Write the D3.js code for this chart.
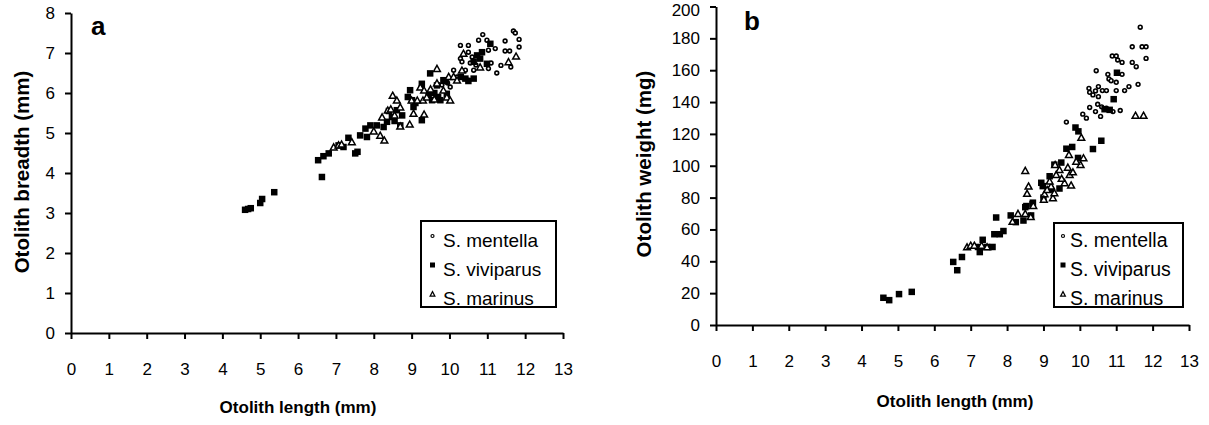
<!DOCTYPE html>
<html><head><meta charset="utf-8">
<script src="https://cdn.jsdelivr.net/npm/d3@7"></script>
<style>
html,body{margin:0;padding:0;background:#fff;}
svg{display:block;font-family:"Liberation Sans",Arial,sans-serif;}
</style></head>
<body>
<svg id="chart" width="1209" height="425"></svg>
<script>
// ---------- DATA ----------
const xTicks = [0,1,2,3,4,5,6,7,8,9,10,11,12,13];
const yTicksA = [0,1,2,3,4,5,6,7,8];
const yTicksB = [0,20,40,60,80,100,120,140,160,180,200];
const seriesNames = ["S. mentella","S. viviparus","S. marinus"];

// Panel a: otolith length (mm) vs breadth (mm)
const mentellaA = [[10.29,7.19],[10.50,7.19],[10.50,7.02],[10.29,6.86],[10.33,6.78],[10.42,6.57],[10.50,6.32],[10.64,6.57],[10.77,7.32],[10.88,7.46],[10.99,7.32],[11.03,7.07],[11.21,7.11],[11.10,6.75],[11.03,6.61],[11.25,6.50],[11.36,6.69],[11.47,7.30],[11.47,7.05],[11.59,7.05],[11.69,7.55],[11.74,7.50],[11.84,7.34],[11.84,7.15],[11.62,6.65],[10.11,6.57],[10.02,6.15],[10.60,6.90],[10.70,6.70],[10.20,6.40],[9.80,6.20],[10.55,6.75],[9.95,6.25]];
const viviparusA = [[4.60,3.08],[4.68,3.10],[4.75,3.12],[5.00,3.25],[5.05,3.35],[5.37,3.52],[6.53,4.32],[6.63,3.90],[6.67,4.42],[6.81,4.49],[7.07,4.69],[7.20,4.65],[7.33,4.88],[7.51,4.49],[7.57,4.53],[7.64,4.94],[7.78,5.11],[7.82,4.90],[7.91,5.19],[8.08,5.19],[8.26,5.15],[8.35,5.28],[8.48,5.40],[8.61,5.57],[8.70,5.19],[8.75,5.44],[8.96,6.07],[9.01,5.82],[9.05,5.65],[9.27,5.32],[9.27,6.23],[9.49,6.49],[9.54,5.82],[9.67,6.19],[9.76,5.82],[9.84,6.32],[9.93,5.98],[10.42,6.36],[10.64,6.36],[10.64,6.78],[10.73,6.94],[10.81,6.86],[10.86,7.02],[10.99,6.73],[11.08,7.23],[8.55,5.30],[8.40,5.55],[9.60,6.00],[9.90,6.30],[10.50,6.30],[9.10,5.75],[9.45,5.95],[9.70,5.90],[10.30,6.40],[8.90,5.90]];
const marinusA = [[6.94,4.65],[7.07,4.70],[7.15,4.72],[7.42,4.78],[8.17,4.94],[8.28,4.82],[8.22,5.40],[8.37,5.57],[8.50,5.94],[8.61,5.82],[8.70,5.65],[8.70,5.17],[8.95,5.22],[9.05,5.49],[9.33,5.47],[9.23,6.15],[9.00,5.82],[9.15,5.82],[9.30,5.82],[9.33,6.07],[9.40,5.90],[9.67,6.61],[9.67,6.25],[9.84,6.07],[9.93,5.90],[10.02,5.82],[9.98,6.41],[10.11,6.41],[10.20,6.32],[10.37,6.99],[10.33,6.57],[10.81,6.65],[11.56,6.78],[11.76,6.92],[8.45,5.60],[8.55,5.45],[9.50,6.10],[8.00,5.05],[9.60,5.85]];

// Panel b: otolith length (mm) vs weight (mg)
const mentellaB = [[11.66,187],[11.44,174.7],[11.71,174.7],[11.82,174.7],[11.82,167.4],[11.44,164.9],[11.55,162.2],[10.89,168.9],[11.00,168.9],[11.04,166.4],[11.16,164.9],[10.45,159.7],[10.77,157.4],[11.16,157.4],[10.80,154.5],[10.86,153.4],[11.00,152.4],[11.60,151.1],[11.35,149.7],[11.23,147.2],[11.00,147.2],[10.25,148.6],[10.51,149.7],[10.27,146.1],[10.36,144.5],[10.51,143.4],[10.43,147.0],[10.62,147.2],[10.73,147.2],[10.08,132.4],[10.18,129.9],[10.27,136.6],[10.49,138.6],[10.57,131.0],[10.73,136.1],[10.91,134.0],[11.11,134.7],[9.63,127.4],[10.43,134.0],[10.60,137]];
const viviparusB = [[4.60,17.1],[4.76,15.6],[5.03,19.4],[5.38,20.8],[6.52,39.6],[6.63,34.4],[6.76,42.7],[7.25,45.8],[7.33,53.5],[7.20,49],[7.45,49],[7.60,49],[7.65,57],[7.70,67.5],[7.80,57],[7.90,59],[8.10,68.8],[8.24,64.6],[8.45,65.6],[8.50,74],[8.66,68.8],[8.70,76],[8.53,74.7],[8.71,76.8],[8.94,89.3],[8.98,87.2],[9.17,93.4],[9.30,100.7],[9.44,85.7],[9.49,102],[9.63,110.7],[9.79,111.8],[9.88,124],[9.96,121.6],[9.95,104.9],[10.36,110.5],[10.59,115.7],[10.68,135.5],[10.82,135.1],[10.93,141.8],[11.02,158.4],[9.00,80],[9.20,85]];
const marinusB = [[6.90,49],[7.00,50],[7.10,50],[7.30,50],[7.45,49],[8.15,65],[8.30,70],[8.50,70],[8.65,68],[8.72,75],[8.50,97],[8.59,87.2],[8.55,82.6],[9.03,82.4],[9.01,78.9],[9.26,79.9],[9.30,83],[9.21,87.2],[9.17,90.3],[9.35,94.5],[9.32,100.7],[9.58,89.3],[9.72,94.5],[9.76,87.8],[9.67,99],[9.70,107],[10.02,100.7],[10.10,104.9],[9.90,102.8],[9.81,96.1],[9.44,97.6],[10.04,117.8],[11.53,131.6],[11.75,131.6],[9.10,85],[9.50,92]];

// ---------- DRAW ----------
const svg = d3.select("#chart");
const FONT = '"Liberation Sans",Arial,sans-serif';

function marker(g, type, x, y, big) {
  if (type === 0) {
    g.append("circle").attr("cx", x).attr("cy", y).attr("r", big ? 1.9 : 1.5)
      .attr("fill", "#fff").attr("stroke", "#000").attr("stroke-width", big ? 1.6 : 1.2);
  } else if (type === 1) {
    const s = big ? 6.5 : 5;
    g.append("rect").attr("x", x - s/2).attr("y", y - s/2).attr("width", s).attr("height", s).attr("fill", "#000");
  } else {
    const w = big ? 3.4 : 2.4, h = big ? 3.2 : 2.4;
    g.append("path").attr("d", `M${x},${y-h}L${x+w},${y+h*0.9}L${x-w},${y+h*0.9}Z`)
      .attr("fill", "#fff").attr("stroke", "#000").attr("stroke-width", big ? 1.5 : 1.2).attr("stroke-linejoin","miter");
  }
}

function panel(cfg) {
  const x = d3.scaleLinear().domain([0, 13]).range(cfg.xr);
  const y = d3.scaleLinear().domain([0, cfg.ymax]).range(cfg.yr);
  const g = svg.append("g");

  // axes
  const xa = g.append("g").attr("transform", `translate(0,${cfg.yr[0]})`)
    .call(d3.axisBottom(x).tickValues(xTicks).tickSize(6).tickSizeOuter(0).tickPadding(24).tickFormat(d3.format("d")));
  const ya = g.append("g").attr("transform", `translate(${cfg.xr[0]},0)`)
    .call(d3.axisLeft(y).tickValues(cfg.yTicks).tickSize(6).tickSizeOuter(0).tickPadding(10).tickFormat(d3.format("d")));
  [xa, ya].forEach(a => {
    a.select(".domain").attr("stroke", "#000").attr("stroke-width", 2);
    a.selectAll(".tick line").attr("stroke", "#000").attr("stroke-width", 2);
    a.selectAll(".tick text").attr("fill", "#000").style("font-family", FONT).style("font-size", "17px");
  });
  // keep the topmost y label inside the picture
  ya.selectAll(".tick text").filter(d => d === cfg.ymax && y(d) < 12).attr("dy", "0.55em");

  // series (drawn in Excel order)
  const series = [cfg.s0, cfg.s1, cfg.s2];
  series.forEach((data, i) => {
    const sg = g.append("g");
    data.forEach(d => marker(sg, i, x(d[0]), y(d[1]), true));
  });

  // panel letter
  g.append("text").attr("x", cfg.letterPos[0]).attr("y", cfg.letterPos[1])
    .style("font-family", FONT).style("font-size", "26px").style("font-weight", "bold").text(cfg.letter);

  // axis titles
  g.append("text").attr("x", cfg.xTitlePos[0]).attr("y", cfg.xTitlePos[1]).attr("text-anchor", "middle")
    .style("font-family", FONT).style("font-size", "17px").style("font-weight", "bold").text("Otolith length (mm)");
  g.append("text").attr("transform", `translate(${cfg.yTitlePos[0]},${cfg.yTitlePos[1]}) rotate(-90)`)
    .attr("text-anchor", "middle")
    .style("font-family", FONT).style("font-size", cfg.yTitleSize + "px").style("font-weight", "bold").text(cfg.yTitle);

  // legend
  const L = cfg.legend;
  const lg = g.append("g");
  lg.append("rect").attr("x", L.x).attr("y", L.y).attr("width", L.w).attr("height", L.h).attr("fill", "#fff");
  seriesNames.forEach((name, i) => {
    const base = L.base0 + i * 29;
    lg.append("text").attr("x", L.tx).attr("y", base)
      .style("font-family", FONT).style("font-size", L.fs + "px").text(name);
    marker(lg, i, L.mx, base - 11, false);
  });
  lg.append("rect").attr("x", L.x).attr("y", L.y).attr("width", L.w).attr("height", L.h)
    .attr("fill", "none").attr("stroke", "#000").attr("stroke-width", 2);
}

panel({
  xr: [71, 563], yr: [333, 13], ymax: 8, yTicks: yTicksA,
  s0: mentellaA, s1: viviparusA, s2: marinusA,
  letter: "a", letterPos: [91, 35],
  xTitlePos: [298, 413], yTitlePos: [29, 172], yTitleSize: 20.5, yTitle: "Otolith breadth (mm)",
  legend: {x: 421, y: 221, w: 135, h: 86, tx: 443, mx: 432.5, base0: 247, fs: 19}
});
panel({
  xr: [716, 1189], yr: [325, 6.5], ymax: 200, yTicks: yTicksB,
  s0: mentellaB, s1: viviparusB, s2: marinusB,
  letter: "b", letterPos: [744, 30],
  xTitlePos: [955, 407], yTitlePos: [651, 164], yTitleSize: 20.5, yTitle: "Otolith weight (mg)",
  legend: {x: 1054, y: 223, w: 129, h: 84, tx: 1070, mx: 1063, base0: 247, fs: 19.5}
});
</script>
</body></html>
